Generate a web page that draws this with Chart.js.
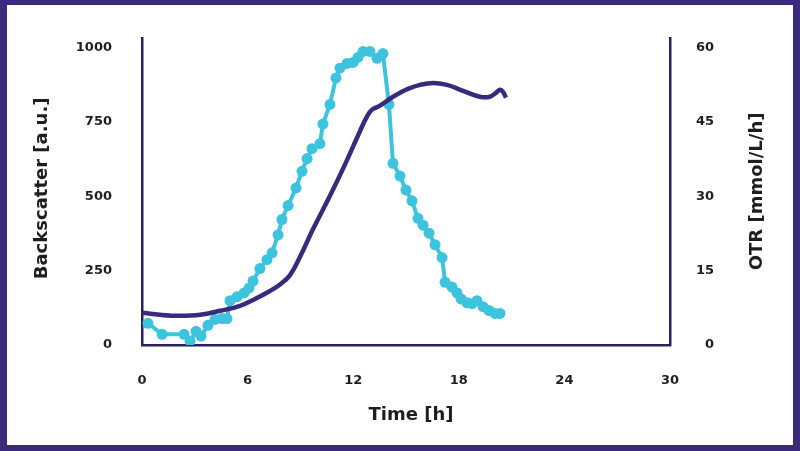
<!DOCTYPE html>
<html>
<head>
<meta charset="utf-8">
<script src="https://cdn.jsdelivr.net/npm/chart.js@4.4.1/dist/chart.umd.min.js"></script>
<style>
  html, body { margin: 0; padding: 0; background: #fff; }
  canvas { display: block; }
</style>
</head>
<body>
<canvas id="myChart" width="800" height="451"></canvas>
<script>
// backscatter measurements (left axis)
const bsTime = [0.34, 1.14, 2.39, 2.73, 3.07, 3.35, 3.75, 4.15, 4.55, 4.83, 5.0, 5.4, 5.8, 6.08, 6.31,
  6.7, 7.1, 7.39, 7.73, 7.95, 8.3, 8.75, 9.09, 9.38, 9.66, 10.11, 10.28, 10.68, 11.02, 11.25,
  11.65, 11.99, 12.27, 12.56, 12.95, 13.35, 13.69, 14.03, 14.26, 14.66, 15.0, 15.34, 15.68,
  15.97, 16.31, 16.65, 17.05, 17.22, 17.61, 17.9, 18.13, 18.47, 18.75, 19.03, 19.38, 19.72,
  20.06, 20.34];
const backscatter = [73, 36, 36, 13, 46, 30, 66, 86, 89, 89, 149, 162, 175, 191, 215,
  257, 287, 310, 370, 422, 469, 528, 584, 627, 660, 677, 743, 809, 898, 931,
  947, 950, 967, 987, 987, 964, 980, 809, 611, 568, 521, 485, 426,
  403, 376, 337, 294, 211, 195, 175, 155, 142, 139, 149, 129, 116,
  106, 106];

// oxygen transfer rate (right axis)
const otrTime = [0, 1.02, 2.16, 3.3, 4.43, 5.57, 6.42, 7.27, 7.84, 8.41, 8.98, 9.72, 10.68, 11.53,
  12.39, 12.78, 13.07, 13.52, 14.09, 14.66, 15.11, 15.8, 16.53, 17.33, 18.24, 19.2, 19.77,
  20.11, 20.34, 20.51, 20.68];
const otr = [6.5, 6.1, 5.9, 6.1, 6.9, 7.9, 9.3, 10.9, 12.2, 14.1, 17.8, 23.4, 30.1, 36.4,
  43.2, 46.1, 47.5, 48.3, 49.7, 50.9, 51.7, 52.5, 52.9, 52.5, 51.3, 50.1, 50.1,
  50.9, 51.5, 51.1, 49.9];

const xTicks = [0, 6, 12, 18, 24, 30];
const leftTicks = [0, 250, 500, 750, 1000];
const rightTicks = [0, 15, 30, 45, 60];

const purple = '#3b2a7c';
const axisColor = '#2b1f60';
const cyan = '#3ec3de';
const textColor = '#1e1e1e';
const fontFamily = '"DejaVu Sans", sans-serif';

function toPoints(xs, ys) {
  return xs.map((x, i) => ({ x: x, y: ys[i] }));
}

// purple frame around the whole picture + axis titles
const framePlugin = {
  id: 'frame',
  beforeDraw(chart) {
    const c = chart.ctx;
    c.save();
    c.fillStyle = purple;
    c.fillRect(0, 0, chart.width, chart.height);
    c.fillStyle = '#fff';
    c.fillRect(7, 5, chart.width - 14, chart.height - 11);
    c.restore();
  },
  afterDraw(chart) {
    const c = chart.ctx;
    const a = chart.chartArea;
    const midY = (a.top + a.bottom) / 2;
    c.save();
    c.fillStyle = textColor;
    c.font = 'bold 18px ' + fontFamily;
    c.textAlign = 'center';
    c.textBaseline = 'middle';
    c.fillText('Time [h]', 411, 415);

    c.translate(42, midY - 3);
    c.rotate(-Math.PI / 2);
    c.fillText('Backscatter [a.u.]', 0, 0);
    c.restore();

    c.save();
    c.fillStyle = textColor;
    c.font = 'bold 18px ' + fontFamily;
    c.textAlign = 'center';
    c.textBaseline = 'middle';
    c.translate(757, midY);
    c.rotate(-Math.PI / 2);
    c.fillText('OTR [mmol/L/h]', 0, 0);
    c.restore();
  }
};

const tickFont = { family: fontFamily, size: 13, weight: 'bold' };
const plainLabel = (v) => String(v);

const ctx = document.getElementById('myChart');

new Chart(ctx, {
  type: 'line',
  data: {
    datasets: [{
      label: 'OTR',
      data: toPoints(otrTime, otr),
      yAxisID: 'y2',
      borderColor: purple,
      borderWidth: 4.5,
      pointRadius: 0,
      tension: 0.4,
      fill: false
    }, {
      label: 'Backscatter',
      data: toPoints(bsTime, backscatter),
      yAxisID: 'y',
      borderColor: cyan,
      backgroundColor: cyan,
      borderWidth: 4,
      pointRadius: 5.5,
      pointBorderWidth: 0,
      pointBackgroundColor: cyan,
      tension: 0,
      fill: false
    }]
  },
  options: {
    responsive: false,
    animation: false,
    layout: { padding: { top: 32, left: 0, right: 86, bottom: 0 } },
    plugins: {
      legend: { display: false },
      tooltip: { enabled: false }
    },
    scales: {
      x: {
        type: 'linear',
        min: 0,
        max: 30,
        afterBuildTicks: (s) => { s.ticks = xTicks.map(v => ({ value: v })); },
        afterFit: (s) => { s.height = 106; },
        grid: { display: false, drawTicks: false },
        border: { display: true, color: axisColor, width: 2.5 },
        ticks: { padding: 28, color: textColor, font: tickFont, maxRotation: 0, callback: plainLabel }
      },
      y: {
        position: 'left',
        min: 0,
        max: 1033,
        afterBuildTicks: (s) => { s.ticks = leftTicks.map(v => ({ value: v })); },
        afterFit: (s) => { s.width = 142; },
        grid: { display: false, drawTicks: false },
        border: { display: true, color: axisColor, width: 2.5 },
        ticks: { padding: 30, color: textColor, font: tickFont, callback: plainLabel }
      },
      y2: {
        position: 'right',
        min: 0,
        max: 62,
        afterBuildTicks: (s) => { s.ticks = rightTicks.map(v => ({ value: v })); },
        afterFit: (s) => { s.width = 44; },
        grid: { display: false, drawTicks: false },
        border: { display: true, color: axisColor, width: 2.5 },
        ticks: { padding: 27, crossAlign: 'far', color: textColor, font: tickFont, callback: plainLabel }
      }
    }
  },
  plugins: [framePlugin]
});
</script>
</body>
</html>
